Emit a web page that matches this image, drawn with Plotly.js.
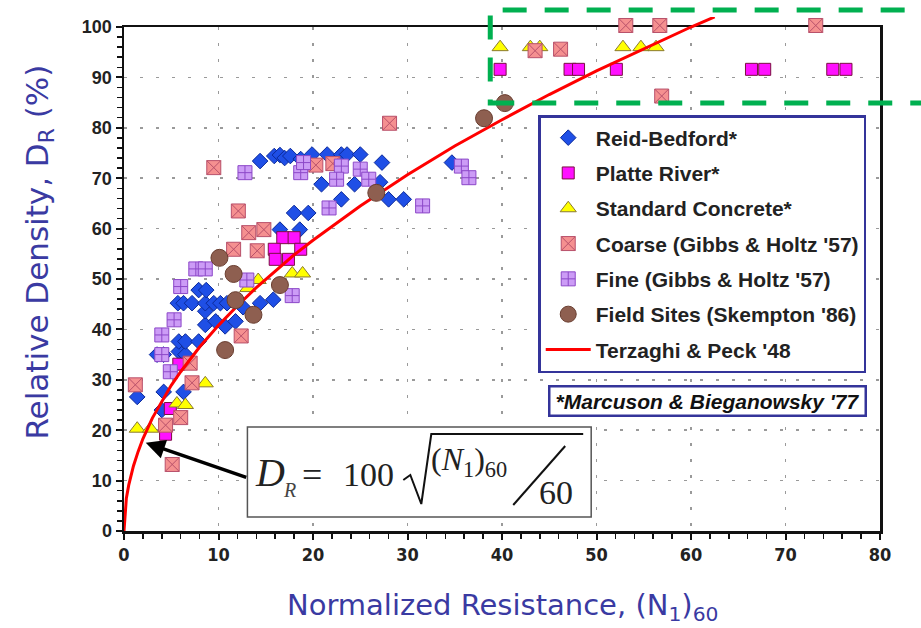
<!DOCTYPE html>
<html>
<head>
<meta charset="utf-8">
<script src="https://cdn.plot.ly/plotly-3.0.1.min.js"></script>
<style>html,body{margin:0;padding:0;background:#fff;}#chart{width:921px;height:628px;}</style>
</head>
<body>
<div id="chart"></div>
<script>
// ---- data ----
const rbX = [1.4,4.0,4.2,6.3,3.5,4.2,5.8,6.5,5.8,6.5,7.9,8.6,9.7,10.7,11.8,8.6,12.6,14.4,15.8,5.7,6.3,7.2,8.6,9.5,10.2,10.9,7.9,8.7,16.5,18.6,18.0,19.5,20.9,23.0,14.4,15.9,16.5,17.0,17.6,18.7,19.9,21.5,23.0,23.6,25.0,27.3,34.7,24.4,27.1,28.0,29.6];
const rbY = [26.6,24.0,27.6,27.6,35.0,35.0,35.6,35.0,37.6,37.6,37.6,40.9,41.6,40.6,41.6,43.6,44.4,45.2,45.9,45.2,45.2,45.2,45.2,45.2,45.2,45.2,47.8,47.8,59.8,59.8,63.1,63.1,68.8,65.8,73.4,74.4,74.6,74.0,74.4,73.8,74.7,74.7,74.7,74.7,74.7,73.1,73.1,68.8,69.2,65.8,65.8];

const prX = [4.4,4.9,5.8,16.8,18.0,15.9,18.7,16.0,17.4,39.8,47.2,48.1,52.1,66.4,67.8,75.0,76.4];
const prY = [19.2,24.3,33.1,58.2,58.2,55.9,55.9,53.9,53.9,91.6,91.6,91.6,91.6,91.6,91.6,91.6,91.6];

const scX = [1.4,2.8,5.6,6.5,8.6,13.1,14.2,17.8,18.9,39.8,43.0,44.0,52.8,54.7,56.3];
const scY = [20.3,20.3,25.3,25.0,29.3,48.2,49.8,51.1,51.1,96.0,96.0,96.0,96.0,96.0,96.0];

const cgX = [1.2,4.4,5.1,6.0,7.0,7.2,12.4,9.5,12.1,13.2,14.8,11.6,14.1,20.3,22.1,28.1,43.5,46.2,53.1,56.7,73.2,56.9];
const cgY = [29.0,21.0,13.2,22.5,33.3,29.4,38.7,72.1,63.5,59.2,59.8,55.9,55.6,72.6,72.9,80.9,95.3,95.6,100.3,100.3,100.3,86.3];

const fgX = [4.0,4.9,4.0,5.3,6.0,7.6,8.6,13.0,17.8,12.8,18.7,19.0,23.0,22.5,21.7,25.0,25.9,31.6,35.7,36.5];
const fgY = [35.0,31.6,38.9,41.9,48.5,52.0,52.0,49.8,46.7,71.1,71.1,73.1,72.4,69.8,64.1,71.8,69.8,64.5,72.4,70.1];

const fsX = [10.1,11.6,11.8,13.7,16.5,10.7,26.7,38.1,40.3];
const fsY = [54.2,51.0,45.8,42.9,48.8,35.9,67.1,81.9,84.9];

const tpX = [0,0.25,0.5,1,1.5,2,3,4,5,6,8,10,12,14,16,18,20,25,30,35,40,45,50,55,60,62.5];
const tpY = [0,6.5,9.1,12.9,15.8,18.3,22.4,25.8,28.9,31.6,36.5,40.8,44.7,48.3,51.6,54.8,57.7,64.5,70.7,76.4,81.6,86.6,91.3,95.7,100,102];

const xTicks = [0,10,20,30,40,50,60,70,80];
const yTicks = [0,10,20,30,40,50,60,70,80,90,100];

const names = ["Reid-Bedford*","Platte River*","Standard Concrete*","Coarse (Gibbs & Holtz '57)","Fine (Gibbs & Holtz '57)","Field Sites (Skempton '86)","Terzaghi & Peck '48"];

// ---- layout helpers (pixel -> paper) ----
const L = 123.5, R = 880, T = 17, B = 531;
const PX = p => (p - L) / (R - L);
const PY = p => (B - p) / (B - T);
const yTopMain = (B - 27) / (B - T);          // main plot top at y=100
const yMax2 = 100 / yTopMain;                 // same scale on the drawing subplot

function sc(name, x, y, symbol, size, fill, lineColor, lw, rank) {
  return {
    type: 'scatter', mode: 'markers', name: '<b>' + name + '</b>', x: x, y: y,
    xaxis: 'x2', yaxis: 'y2',
    legendgroup: 'g' + rank, legendrank: rank, cliponaxis: false,
    marker: {symbol: symbol, size: size, color: fill, line: {color: lineColor, width: lw}}
  };
}

const traces = [
  sc(names[0], rbX, rbY, 'diamond', 12, '#1f4fe6', '#0c2a9a', 1, 1),
  sc(names[1], prX, prY, 'square', 12, '#ff10ff', '#7a1040', 1, 2),
  sc(names[2], scX, scY, 'triangle-up', 14, '#ffff00', '#8a7a30', 1, 3),
  sc(names[3], cgX, cgY, 'square-x', 14, '#f59090', '#b8506a', 1, 4),
  sc(names[4], fgX, fgY, 'square-cross', 14, '#cc9cf6', '#8c48c8', 1, 5),
  {type:'scatter', mode:'lines', name: '<b>' + names[6] + '</b>', x: tpX, y: tpY, xaxis:'x2', yaxis:'y2',
   legendgroup:'g7', legendrank:7, line:{color:'#ff0000', width:3}},
  sc(names[5], fsX, fsY, 'circle', 17, '#8e5f50', '#6a3e30', 1, 6)
];

const tickFontX = {family:'Liberation Sans Narrow, Arial Narrow, DejaVu Sans Condensed, sans-serif', size:18, color:'#222', weight:700};
const tickFontY = {family:'Liberation Sans, Arial, sans-serif', size:18, color:'#222', weight:700};
const grid = {showgrid:true, gridcolor:'#9a9a9a', gridwidth:1.5, griddash:'3px,13px'};

const layout = {
  width: 921, height: 628,
  margin: {l: L, r: 921 - R, t: T, b: 628 - B, pad: 0},
  paper_bgcolor: '#ffffff', plot_bgcolor: 'rgba(0,0,0,0)',
  showlegend: true,
  legend: {
    x: PX(538), y: PY(115), xanchor:'left', yanchor:'top',
    bordercolor:'#34349a', borderwidth: 2.5, bgcolor:'#ffffff',
    font: {family:'Liberation Sans, Arial, sans-serif', size:21, color:'#222'},
    traceorder:'grouped', tracegroupgap: 5, itemwidth: 45
  },
  xaxis: Object.assign({domain:[0,1], range:[0,80], tickvals:xTicks, ticktext:xTicks.map(v => '<b>' + v + '</b>'),
    showline:true, linecolor:'#111', linewidth:2.5, mirror:true,
    ticks:'outside', ticklen:6, tickwidth:2, tickcolor:'#111', tickfont:tickFontX,
    minor:{dtick:2, ticks:'outside', ticklen:5, tickwidth:1.5, tickcolor:'#111', showgrid:false},
    zeroline:false, fixedrange:true, anchor:'y'}, grid),
  yaxis: Object.assign({domain:[0, yTopMain], range:[0,100], tickvals:yTicks, ticktext:yTicks.map(v => '<b>' + v + '</b>'),
    showline:true, linecolor:'#111', linewidth:2.5, mirror:true,
    ticks:'outside', ticklen:6, tickwidth:2, tickcolor:'#111', tickfont:tickFontY,
    minor:{dtick:2, ticks:'outside', ticklen:5, tickwidth:1.5, tickcolor:'#111', showgrid:false},
    zeroline:false, fixedrange:true, anchor:'x'}, grid),
  xaxis3: {overlaying:'x', anchor:'y', range:[0,80], tickvals:xTicks, showticklabels:false,
    ticks:'inside', ticklen:6, tickwidth:2, tickcolor:'#111', showline:false, showgrid:false, zeroline:false},
  yaxis3: {overlaying:'y', anchor:'x', range:[0,100], tickvals:yTicks, showticklabels:false,
    ticks:'inside', ticklen:6, tickwidth:2, tickcolor:'#111', showline:false, showgrid:false, zeroline:false},
  xaxis2: {domain:[0,1], range:[0,80], visible:false, anchor:'y2', fixedrange:true},
  yaxis2: {domain:[0,1], range:[0,yMax2], visible:false, anchor:'x2', fixedrange:true},
  shapes: [
    // equation box
    {type:'rect', xref:'paper', yref:'paper', x0:PX(247), x1:PX(591), y0:PY(517), y1:PY(427),
     line:{color:'#555', width:1.5}, fillcolor:'#ffffff', layer:'above'},
    // radical sign
    {type:'path', xref:'paper', yref:'paper', layer:'above',
     path:'M'+PX(403)+','+PY(480)+' L'+PX(410)+','+PY(475)+' L'+PX(421)+','+PY(504)+' L'+PX(431)+','+PY(434)+' L'+PX(583)+','+PY(434),
     line:{color:'#111', width:2}},
    // fraction slash
    {type:'line', xref:'paper', yref:'paper', layer:'above', x0:PX(513), y0:PY(505), x1:PX(565), y1:PY(446),
     line:{color:'#111', width:2}},
    // green dashed highlight
    {type:'rect', xref:'paper', yref:'paper', x0:PX(490), x1:PX(945), y0:PY(103), y1:PY(10),
     line:{color:'#00b050', width:5, dash:'24px,18px'}, fillcolor:'rgba(0,0,0,0)', layer:'above'}
  ],
  annotations: [
    {xref:'paper', yref:'paper', x:PX(502), y:PY(607), xanchor:'center', yanchor:'middle', showarrow:false,
     text:'Normalized Resistance, (N<sub>1</sub>)<sub>60</sub>',
     font:{family:'DejaVu Sans, sans-serif', size:29, color:'#3a3aa2'}},
    {xref:'paper', yref:'paper', x:PX(38), y:PY(252), xanchor:'center', yanchor:'middle', showarrow:false, textangle:-90,
     text:'Relative Density, D<sub>R</sub> (%)',
     font:{family:'DejaVu Sans, sans-serif', size:31, color:'#3a3aa2'}},
    {xref:'paper', yref:'paper', x:PX(707), y:PY(401), xanchor:'center', yanchor:'middle', showarrow:false,
     width:312, height:25, bordercolor:'#34349a', borderwidth:2.5, bgcolor:'#ffffff', borderpad:1,
     text:"<b><i>*Marcuson &amp; Bieganowsky '77</i></b>",
     font:{family:'Liberation Sans, Arial, sans-serif', size:21, color:'#111'}},
    // arrow
    {xref:'x', yref:'y', x:2.3, y:17.5, ax:102, ay:35, axref:'pixel', ayref:'pixel', text:'', showarrow:true,
     arrowhead:2, arrowsize:1.1, arrowwidth:3.5, arrowcolor:'#000', standoff:0},
    // equation pieces
    {xref:'paper', yref:'paper', x:PX(253), y:PY(472), xanchor:'left', yanchor:'middle', showarrow:false,
     text:'<i>D</i>', font:{family:'Liberation Serif, Times New Roman, serif', size:40, color:'#222'}},
    {xref:'paper', yref:'paper', x:PX(281), y:PY(490), xanchor:'left', yanchor:'middle', showarrow:false,
     text:'<i>R</i>', font:{family:'Liberation Serif, Times New Roman, serif', size:20, color:'#444'}},
    {xref:'paper', yref:'paper', x:PX(300), y:PY(475), xanchor:'left', yanchor:'middle', showarrow:false,
     text:'=', font:{family:'Liberation Serif, Times New Roman, serif', size:36, color:'#222'}},
    {xref:'paper', yref:'paper', x:PX(341), y:PY(475), xanchor:'left', yanchor:'middle', showarrow:false,
     text:'100', font:{family:'Liberation Serif, Times New Roman, serif', size:34, color:'#222'}},
    {xref:'paper', yref:'paper', x:PX(429), y:PY(461), xanchor:'left', yanchor:'middle', showarrow:false,
     text:'(<i>N</i><sub>1</sub>)<sub>60</sub>', font:{family:'Liberation Serif, Times New Roman, serif', size:32, color:'#222'}},
    {xref:'paper', yref:'paper', x:PX(537), y:PY(492), xanchor:'left', yanchor:'middle', showarrow:false,
     text:'60', font:{family:'Liberation Serif, Times New Roman, serif', size:34, color:'#222'}}
  ]
};

Plotly.newPlot('chart', traces, layout, {staticPlot:true, displayModeBar:false});
</script>
</body>
</html>
